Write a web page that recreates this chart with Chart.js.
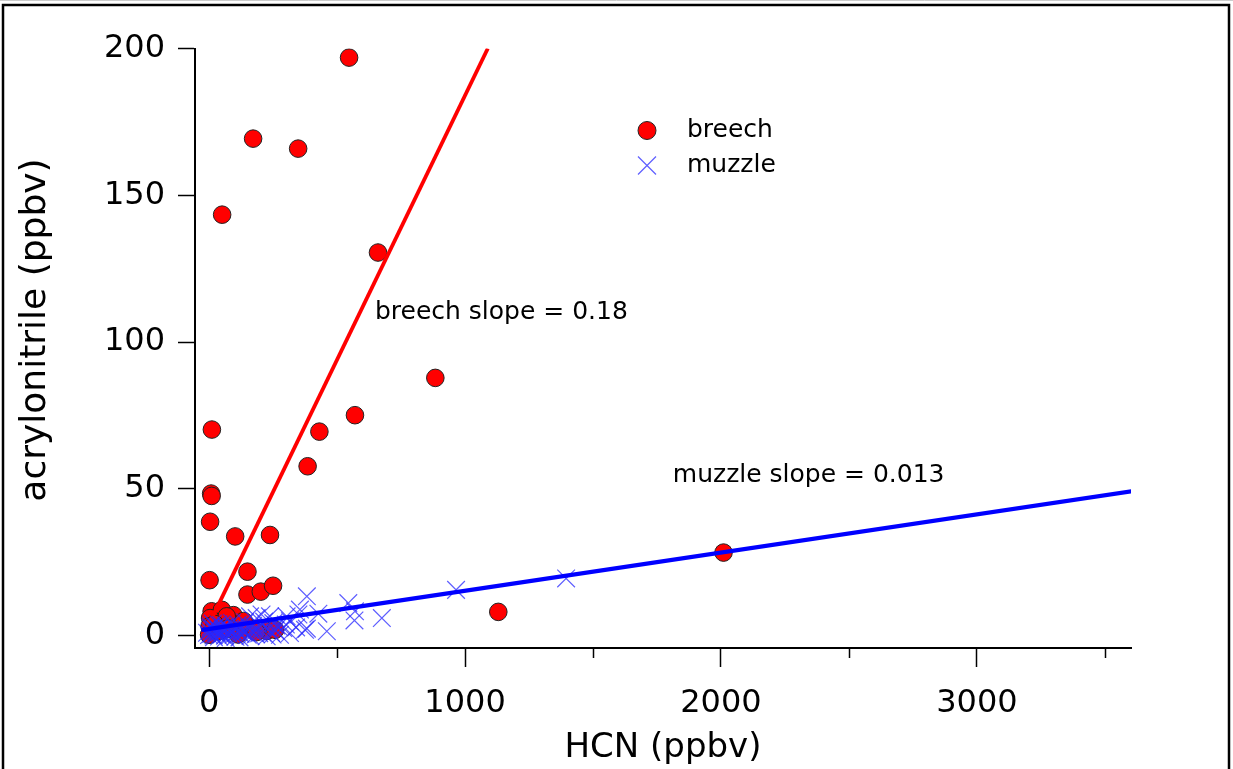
<!DOCTYPE html>
<html>
<head>
<meta charset="utf-8">
<title>acrylonitrile vs HCN</title>
<script src="https://cdn.jsdelivr.net/npm/chart.js@4.4.1/dist/chart.umd.min.js"></script>
<style>
  html, body { margin: 0; padding: 0; background: #fff; }
  canvas { display: block; }
</style>
</head>
<body>
<canvas id="scatter" width="1233" height="769"></canvas>
<script>
// breech samples: HCN (ppbv) and acrylonitrile (ppbv)
const breechHCN = [547, 172, 348, 51, 660, 884, 570, 431, 11, 385, 8, 10, 4, 102, 238,
                   150, 2, 150, 202, 250, 1130, 2010,
                   10, 50, 95, 4, 69, 2, 154, 225, 258, 0, 113, 38, 75, 185, 22, 135];
const breechAcn = [196.9, 169.3, 165.9, 143.4, 130.5, 87.8, 75.1, 69.5, 70.2, 57.7, 48.4, 47.6, 38.8, 33.8, 34.3,
                   21.8, 18.9, 14.0, 15.0, 17.0, 8.1, 28.3,
                   8.3, 8.8, 7.0, 6.0, 6.6, 3.2, 3.0, 1.6, 2.0, 0.3, 0.4, 1.5, 2.4, 1.2, 4.0, 5.0];

// muzzle samples
const muzzleHCN = [1395, 965, 675, 570, 568, 544, 460, 427, 382, 382, 355, 375, 349, 316, 316,
                   303, 290, 277, 251, 238, 225, 205, 199, 186, 160, 262, 300, 340,
                   0, 3, 7, 9, 13, 15, 19, 23, 25, 31, 34, 39, 41, 47, 50, 56, 59, 65, 67, 73,
                   79, 83, 89, 92, 100, 103, 111, 115, 123, 127, 136, 141, 151, 157, 167, 172,
                   183, 189, 209, 215, 233, 243, 259, 271,
                   -8, 5, 17, 28, 36, 44, 53, 62, 70, 86, 96, 107, 119, 131, 146, 162, 178, 196, 221, 248];
const muzzleAcn = [19.5, 15.6, 6.0, 8.3, 5.2, 11.1, 1.5, 7.5, 13.4, 2.4, 8.9, 2.0, 7.2, 4.9, 0.9,
                   6.6, 2.6, 0.3, 4.3, 6.6, -0.2, 7.2, 3.2, 6.0, 6.6, 3.5, 3.8, 2.8,
                   0.2, 1.5, 3.2, 0.6, 2.4, 4.1, -0.5, 1.8, 3.0, 0.9, 2.2, -0.3, 1.2, 3.6, 0.4, 2.7, 1.5, -0.8, 3.3, 1.0,
                   2.1, 0.2, 4.4, 1.6, 2.9, -0.4, 1.3, 3.8, 0.7, 2.4, 1.1, 4.6, 0.3, 2.6, 1.4, 3.4,
                   0.5, 2.0, 1.0, 4.8, 2.2, 0.9, 1.8, 3.1,
                   1.0, 2.6, 0.1, 1.4, 3.9, 0.6, 1.9, 0.0, 2.8, 1.2, 0.3, 2.5, -0.6, 1.7, 2.3, -0.1, 1.9, 0.8, 2.9, 0.4];

// linear fits
const breechSlope = 0.18, breechIntercept = 4.0;
const muzzleSlope = 0.013, muzzleIntercept = 2.3;
const breechFitHCN = [-22, 1089];
const muzzleFitHCN = [-30, 3610];

const xTicks = [0, 1000, 2000, 3000];
const xMinorTicks = [500, 1500, 2500, 3500];
const yTicks = [0, 50, 100, 150, 200];

const FONT = '"DejaVu Sans", sans-serif';
const CROSS = 'rgba(40,40,255,0.75)';

const toPoints = (xs, ys) => xs.map((x, i) => ({ x, y: ys[i] }));
const fitLine = (xs, m, b) => xs.map(x => ({ x, y: m * x + b }));

// minor ticks, rotated y title, slope notes, legend and page frame
const decorations = {
  id: 'decorations',
  afterDraw(chart) {
    const { ctx, scales: { x, y }, chartArea } = chart;
    ctx.save();

    ctx.strokeStyle = '#000';
    ctx.lineWidth = 1.5;
    xMinorTicks.forEach(v => {
      const px = Math.round(x.getPixelForValue(v)) + 0.5;
      ctx.beginPath();
      ctx.moveTo(px, chartArea.bottom);
      ctx.lineTo(px, chartArea.bottom + 10);
      ctx.stroke();
    });

    ctx.fillStyle = '#000';
    ctx.save();
    ctx.font = `36px ${FONT}`;
    ctx.textAlign = 'center';
    ctx.textBaseline = 'middle';
    ctx.translate(36, 330);
    ctx.rotate(-Math.PI / 2);
    ctx.fillText('acrylonitrile (ppbv)', 0, 0);
    ctx.restore();

    ctx.font = `25px ${FONT}`;
    ctx.textAlign = 'left';
    ctx.textBaseline = 'middle';
    ctx.fillText('breech slope = 0.18', x.getPixelForValue(648), y.getPixelForValue(110));
    ctx.fillText('muzzle slope = 0.013', x.getPixelForValue(1812), y.getPixelForValue(54.5));

    // legend
    const lx = chartArea.left + 452, ly = chartArea.top + 82;
    ctx.beginPath();
    ctx.arc(lx, ly, 9, 0, Math.PI * 2);
    ctx.fillStyle = '#ff0000';
    ctx.fill();
    ctx.lineWidth = 1;
    ctx.strokeStyle = '#222';
    ctx.stroke();
    ctx.strokeStyle = CROSS;
    ctx.lineWidth = 1.2;
    ctx.beginPath();
    ctx.moveTo(lx - 9, ly + 35 - 9); ctx.lineTo(lx + 9, ly + 35 + 9);
    ctx.moveTo(lx + 9, ly + 35 - 9); ctx.lineTo(lx - 9, ly + 35 + 9);
    ctx.stroke();
    ctx.fillStyle = '#000';
    ctx.fillText('breech', lx + 40, ly);
    ctx.fillText('muzzle', lx + 40, ly + 35);

    // frame
    ctx.strokeStyle = '#ccc';
    ctx.lineWidth = 1;
    ctx.beginPath();
    ctx.moveTo(0, 0.5); ctx.lineTo(chart.width, 0.5);
    ctx.stroke();
    ctx.strokeStyle = '#000';
    ctx.lineWidth = 2.5;
    ctx.strokeRect(3, 5, 1226, 820);

    ctx.restore();
  }
};

const ctx = document.getElementById('scatter').getContext('2d');

new Chart(ctx, {
  type: 'scatter',
  data: {
    datasets: [
      {
        label: 'muzzle fit',
        type: 'line',
        data: fitLine(muzzleFitHCN, muzzleSlope, muzzleIntercept),
        borderColor: '#0000ff',
        borderWidth: 4.2,
        pointRadius: 0,
        order: 0
      },
      {
        label: 'muzzle',
        data: toPoints(muzzleHCN, muzzleAcn),
        pointStyle: 'crossRot',
        pointRadius: 12.5,
        borderColor: CROSS,
        borderWidth: 1.2,
        order: 1
      },
      {
        label: 'breech fit',
        type: 'line',
        data: fitLine(breechFitHCN, breechSlope, breechIntercept),
        borderColor: '#ff0000',
        borderWidth: 3.8,
        pointRadius: 0,
        order: 2
      },
      {
        label: 'breech',
        data: toPoints(breechHCN, breechAcn),
        pointStyle: 'circle',
        pointRadius: 8.8,
        backgroundColor: '#ff0000',
        borderColor: '#222',
        borderWidth: 1,
        order: 3
      }
    ]
  },
  options: {
    responsive: false,
    animation: false,
    devicePixelRatio: 1,
    layout: { padding: { left: 0, top: 48.5, right: 102, bottom: 0 } },
    plugins: { legend: { display: false }, tooltip: { enabled: false } },
    scales: {
      x: {
        type: 'linear',
        min: -55,
        max: 3602,
        afterBuildTicks: s => { s.ticks = xTicks.map(value => ({ value })); },
        afterFit: s => { s.height = 121; },
        ticks: { color: '#000', padding: 17, font: { family: FONT, size: 32 },
                 callback: v => String(v) },
        grid: { drawOnChartArea: false, drawTicks: true, tickLength: 19, tickColor: '#000', tickWidth: 1.5 },
        border: { color: '#000', width: 2 },
        title: { display: true, text: 'HCN (ppbv)', color: '#000',
                 font: { family: FONT, size: 34 }, padding: { top: 0, bottom: 0 } }
      },
      y: {
        type: 'linear',
        min: -4.2,
        max: 200,
        afterBuildTicks: s => { s.ticks = yTicks.map(value => ({ value })); },
        afterFit: s => { s.width = 195; },
        ticks: { color: '#000', padding: 13, font: { family: FONT, size: 32 },
                 callback: v => String(v) },
        grid: { drawOnChartArea: false, drawTicks: true, tickLength: 17, tickColor: '#000', tickWidth: 1.5 },
        border: { color: '#000', width: 2 }
      }
    }
  },
  plugins: [decorations]
});
</script>
</body>
</html>
